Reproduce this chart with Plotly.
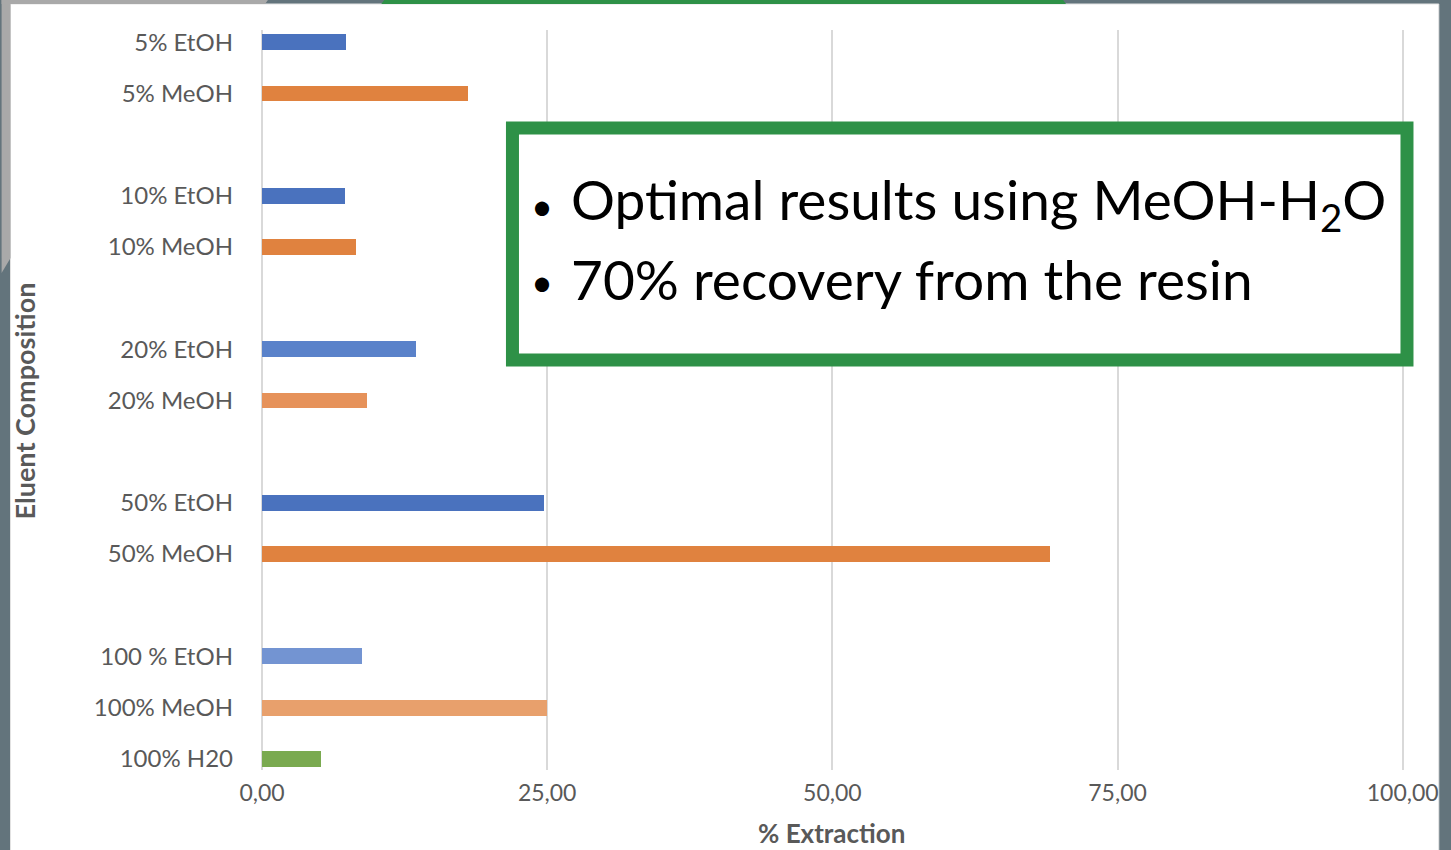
import plotly.graph_objects as go

# Eluent compositions, grouped by concentration (top to bottom)
groups = [
    ["5% EtOH", "5% MeOH"],
    ["10% EtOH", "10% MeOH"],
    ["20% EtOH", "20% MeOH"],
    ["50% EtOH", "50% MeOH"],
    ["100 % EtOH", "100% MeOH", "100% H20"],
]

# % extraction for each eluent, same order as the groups
extraction = [
    7.4, 18.1,
    7.3, 8.2,
    13.5, 9.2,
    24.7, 69.1,
    8.8, 25.0, 5.2,
]

x_ticks = [0, 25, 50, 75, 100]

bar_colors = [
    "#4a72be", "#e0823f",
    "#4a72be", "#e0823f",
    "#5a82ca", "#e6925a",
    "#4a72be", "#e0823f",
    "#7394d2", "#e8a06c", "#7aaa50",
]

# one slot per bar, with an empty slot between groups
labels, slots = [], []
pos = 0
for g in groups:
    for name in g:
        labels.append(name)
        slots.append(pos)
        pos += 1
    pos += 1
last_slot = slots[-1]

W, H = 1451, 850
L, R, T, B = 262, 1412, 30, 770
X_MAX = 100.2


def px(x):
    return (x - L) / (R - L)


def py(y):
    return (B - y) / (B - T)


SLATE = "#63747c"
LIGHT = "#a9a9a9"
GREEN = "#2e9147"
TEXT_GRAY = "#595959"
GRID = "#d9d9d9"

fig = go.Figure(
    go.Bar(
        x=extraction,
        y=slots,
        orientation="h",
        width=0.31,
        marker=dict(color=bar_colors, line=dict(width=0)),
        hoverinfo="skip",
    )
)

shapes = [
    # white card on the slide
    dict(type="rect", xref="paper", yref="paper", layer="below",
         x0=px(9), x1=px(1446), y0=py(4), y1=py(H + 5),
         fillcolor="white", line=dict(color="#e4e4e4", width=1)),
    # left slide edge
    dict(type="path", xref="paper", yref="paper", layer="below",
         path=f"M {px(0)},{py(0)} L {px(9)},{py(0)} L {px(9)},{py(258)} "
              f"L {px(0)},{py(273)} Z",
         fillcolor=LIGHT, line=dict(width=0)),
    # top slide edge
    dict(type="path", xref="paper", yref="paper", layer="below",
         path=f"M {px(0)},{py(0)} L {px(268)},{py(0)} L {px(265)},{py(4)} "
              f"L {px(0)},{py(4)} Z",
         fillcolor=LIGHT, line=dict(width=0)),
    dict(type="path", xref="paper", yref="paper", layer="below",
         path=f"M {px(385)},{py(0)} L {px(1068)},{py(0)} L {px(1071)},{py(4)} "
              f"L {px(382)},{py(4)} Z",
         fillcolor=GREEN, line=dict(width=0)),
    # callout box
    dict(type="rect", xref="paper", yref="paper", layer="above",
         x0=px(514), x1=px(1414), y0=py(128), y1=py(360),
         fillcolor="white", line=dict(color=GREEN, width=13)),
]

annotations = [
    dict(text="<b>% Extraction</b>", xref="paper", yref="paper",
         x=px(835), y=py(833), xanchor="center", yanchor="middle",
         showarrow=False, font=dict(family="Lato", size=26, color=TEXT_GRAY)),
    dict(text="<b>Eluent Composition</b>", xref="paper", yref="paper",
         x=px(23), y=py(401), xanchor="center", yanchor="middle",
         textangle=-90, showarrow=False,
         font=dict(family="Lato", size=27, color=TEXT_GRAY)),
]

callout_lines = ["Optimal results using MeOH-H<sub>2</sub>O",
                 "70% recovery from the resin"]
for i, line in enumerate(callout_lines):
    yc = 203 + 76 * i
    annotations.append(dict(text="•", xref="paper", yref="paper",
                            x=px(531), y=py(yc + 2), xanchor="left", yanchor="middle",
                            showarrow=False,
                            font=dict(family="Lato", size=38, color="black")))
    annotations.append(dict(text=line, xref="paper", yref="paper",
                            x=px(571), y=py(yc), xanchor="left", yanchor="middle",
                            showarrow=False,
                            font=dict(family="Lato", size=55, color="black")))

fig.update_layout(
    width=W, height=H,
    margin=dict(l=L, r=W - R, t=T, b=H - B),
    paper_bgcolor=SLATE,
    plot_bgcolor="white",
    separators=",.",
    showlegend=False,
    bargap=0,
    shapes=shapes,
    annotations=annotations,
    xaxis=dict(
        range=[0, X_MAX],
        tickvals=x_ticks,
        tickformat=".2f",
        showgrid=True, gridcolor=GRID, gridwidth=2,
        zeroline=True, zerolinecolor=GRID, zerolinewidth=2,
        showline=False, ticks="",
        ticklabelstandoff=7,
        tickfont=dict(family="Lato", size=23, color=TEXT_GRAY),
        fixedrange=True,
    ),
    yaxis=dict(
        range=[last_slot + 0.22, -0.24],
        tickvals=slots,
        ticktext=labels,
        showgrid=False, zeroline=False, showline=False, ticks="",
        ticklabelstandoff=28,
        tickfont=dict(family="Lato", size=24, color=TEXT_GRAY),
        fixedrange=True,
    ),
)

fig.write_html("out.html", config={"displayModeBar": False})
